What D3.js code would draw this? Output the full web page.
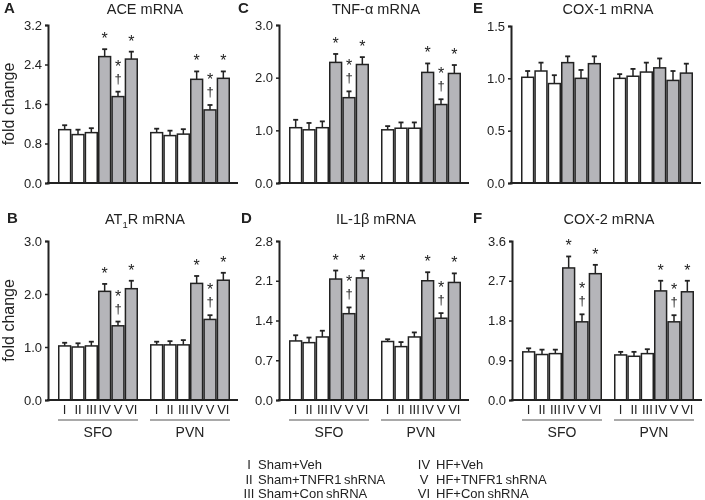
<!DOCTYPE html>
<html><head><meta charset="utf-8">
<script src="https://cdn.jsdelivr.net/npm/d3@7"></script>
<style>body{margin:0;background:#fff;} svg{will-change:transform;} text{font-family:"Liberation Sans",Arial,sans-serif;fill:#222;}</style>
</head><body><svg id="c" width="705" height="500"></svg>
<script>
const groups = ["SFO", "PVN"];
const treatments = ["I", "II", "III", "IV", "V", "VI"];
const legendLabels = ["Sham+Veh", "Sham+TNFR1 shRNA", "Sham+Con shRNA", "HF+Veh", "HF+TNFR1 shRNA", "HF+Con shRNA"];
const sigMarks = ["", "", "", "*", "*†", "*"];

const aceMean = [[1.08, 0.98, 1.02, 2.56, 1.75, 2.51], [1.02, 0.96, 0.99, 2.10, 1.48, 2.12]];
const aceErr  = [[0.09, 0.10, 0.09, 0.15, 0.10, 0.15], [0.08, 0.10, 0.10, 0.16, 0.10, 0.14]];
const at1rMean = [[1.02, 1.00, 1.02, 2.05, 1.40, 2.10], [1.04, 1.04, 1.04, 2.20, 1.52, 2.26]];
const at1rErr  = [[0.06, 0.07, 0.08, 0.14, 0.08, 0.15], [0.06, 0.07, 0.09, 0.14, 0.08, 0.14]];
const tnfMean = [[1.05, 1.01, 1.05, 2.29, 1.62, 2.25], [1.01, 1.04, 1.04, 2.10, 1.49, 2.08]];
const tnfErr  = [[0.15, 0.13, 0.12, 0.16, 0.12, 0.14], [0.07, 0.11, 0.11, 0.17, 0.10, 0.16]];
const il1Mean = [[1.04, 1.01, 1.11, 2.13, 1.52, 2.15], [1.03, 0.94, 1.11, 2.10, 1.44, 2.07]];
const il1Err  = [[0.10, 0.09, 0.11, 0.15, 0.11, 0.13], [0.04, 0.08, 0.08, 0.15, 0.09, 0.16]];
const cox1Mean = [[1.01, 1.07, 0.95, 1.15, 1.00, 1.14], [1.00, 1.02, 1.06, 1.10, 0.98, 1.05]];
const cox1Err  = [[0.06, 0.08, 0.08, 0.06, 0.08, 0.07], [0.04, 0.07, 0.09, 0.09, 0.09, 0.09]];
const cox2Mean = [[1.09, 1.03, 1.05, 2.99, 1.77, 2.86], [1.02, 0.99, 1.05, 2.47, 1.77, 2.45]];
const cox2Err  = [[0.08, 0.11, 0.09, 0.26, 0.17, 0.20], [0.07, 0.10, 0.10, 0.23, 0.15, 0.25]];

const aceTicks = [0, 0.8, 1.6, 2.4, 3.2];
const at1rTicks = [0, 1, 2, 3];
const tnfTicks = [0, 1, 2, 3];
const il1Ticks = [0, 0.7, 1.4, 2.1, 2.8];
const cox1Ticks = [0, 0.5, 1.0, 1.5];
const cox2Ticks = [0, 0.9, 1.8, 2.7, 3.6];

const panels = [
  {letter: "A", title: "ACE mRNA", mean: aceMean, err: aceErr, ticks: aceTicks, sig: true, x0: 48, top: 25, bottom: 183, xlab: false, lx: 4, ylab: true},
  {letter: "B", title: "AT1R mRNA", mean: at1rMean, err: at1rErr, ticks: at1rTicks, sig: true, x0: 48, top: 241, bottom: 400, xlab: true, lx: 7, ylab: true},
  {letter: "C", title: "TNF-α mRNA", mean: tnfMean, err: tnfErr, ticks: tnfTicks, sig: true, x0: 279, top: 25, bottom: 183, xlab: false, lx: 238},
  {letter: "D", title: "IL-1β mRNA", mean: il1Mean, err: il1Err, ticks: il1Ticks, sig: true, x0: 279, top: 241, bottom: 400, xlab: true, lx: 241},
  {letter: "E", title: "COX-1 mRNA", mean: cox1Mean, err: cox1Err, ticks: cox1Ticks, sig: false, x0: 511, top: 26, bottom: 183, xlab: false, lx: 473},
  {letter: "F", title: "COX-2 mRNA", mean: cox2Mean, err: cox2Err, ticks: cox2Ticks, sig: true, x0: 512, top: 241, bottom: 400, xlab: true, lx: 473}
];

const svg = d3.select("#c");
const ink = "#222";
const grayFill = "#b5b5b9";

panels.forEach(p => {
  const g = svg.append("g");
  const y = d3.scaleLinear().domain([0, d3.max(p.ticks)]).range([p.bottom, p.top]);
  const gx = d3.scaleBand().domain(groups).range([p.x0 + 10, p.x0 + 182]).paddingInner(12 / 92);
  const bx = d3.scaleBand().domain(treatments).range([0, gx.bandwidth()]);
  const topRow = p.top < 100;
  const tBase = topRow ? 14 : 224;

  g.append("text").attr("x", p.lx).attr("y", tBase - 1).attr("font-size", 15).attr("font-weight", "bold").text(p.letter);
  const tt = g.append("text").attr("x", p.x0 + 97).attr("y", tBase).attr("text-anchor", "middle").attr("font-size", 14.5);
  if (p.letter === "B") {
    tt.append("tspan").text("AT");
    tt.append("tspan").attr("font-size", 9.5).attr("dy", 4).text("1");
    tt.append("tspan").attr("dy", -4).text("R mRNA");
  } else tt.text(p.title);

  if (p.ylab) {
    g.append("text").attr("transform", `translate(14,${(p.top + p.bottom) / 2}) rotate(-90)`)
      .attr("text-anchor", "middle").attr("font-size", 16).text("fold change");
  }

  groups.forEach((gr, gi) => {
    const gg = g.append("g").attr("transform", `translate(${gx(gr)},0)`);
    treatments.forEach((t, i) => {
      const v = p.mean[gi][i], e = p.err[gi][i];
      const cx = bx(t) + bx.bandwidth() / 2;
      gg.append("line").attr("x1", cx).attr("x2", cx).attr("y1", y(v)).attr("y2", y(v + e)).attr("stroke", ink).attr("stroke-width", 1.5);
      gg.append("line").attr("x1", cx - 2.5).attr("x2", cx + 2.5).attr("y1", y(v + e)).attr("y2", y(v + e)).attr("stroke", ink).attr("stroke-width", 1.8);
      gg.append("rect").attr("x", bx(t) + 0.75).attr("y", y(v)).attr("width", bx.bandwidth() - 1.5).attr("height", y(0) - y(v))
        .attr("fill", i < 3 ? "#fff" : grayFill).attr("stroke", ink).attr("stroke-width", 1.5);
      if (p.sig && sigMarks[i]) {
        const et = y(v + e);
        if (sigMarks[i] === "*") {
          gg.append("text").attr("x", cx).attr("y", et - 5).attr("text-anchor", "middle").attr("font-size", 16).attr("fill", "#333").text("*");
        } else {
          const st = gg.append("text").attr("text-anchor", "middle").attr("fill", "#333");
          st.append("tspan").attr("x", cx).attr("y", et - 20).attr("font-size", 16).text("*");
          st.append("tspan").attr("x", cx).attr("y", et - 9).attr("font-size", 13).text("†");
        }
      }
      if (p.xlab) {
        gg.append("text").attr("x", cx).attr("y", 414).attr("text-anchor", "middle").attr("font-size", 13).attr("fill", "#333").text(t);
      }
    });
    if (p.xlab) {
      g.append("line").attr("x1", gx(gr)).attr("x2", gx(gr) + gx.bandwidth()).attr("y1", 420).attr("y2", 420).attr("stroke", "#555").attr("stroke-width", 1);
      g.append("text").attr("x", gx(gr) + gx.bandwidth() / 2).attr("y", 437).attr("text-anchor", "middle").attr("font-size", 14).text(gr);
    }
  });

  const ax = g.append("g").attr("transform", `translate(${p.x0},0)`)
    .call(d3.axisLeft(y).tickValues(p.ticks).tickFormat(d3.format(".1f")).tickSize(3).tickPadding(3));
  ax.select(".domain").attr("stroke", ink).attr("stroke-width", 2);
  ax.selectAll(".tick line").attr("stroke", ink).attr("stroke-width", 1.5);
  ax.selectAll("text").attr("font-size", 13).attr("fill", "#333").style("font-family", '"Liberation Sans",Arial,sans-serif');
  g.append("line").attr("x1", p.x0 - 1).attr("x2", p.x0 + 190).attr("y1", y(0)).attr("y2", y(0)).attr("stroke", ink).attr("stroke-width", 2);
});

const lg = svg.append("g");
const rowsY = [469, 484, 498];
legendLabels.forEach((lab, i) => {
  const col = i < 3 ? 0 : 1;
  const row = i % 3;
  const nx = col === 0 ? 249 : 424;
  const tx = col === 0 ? 258 : 436;
  lg.append("text").attr("x", nx).attr("y", rowsY[row]).attr("text-anchor", "middle").attr("font-size", 13).text(treatments[i]);
  lg.append("text").attr("x", tx).attr("y", rowsY[row]).attr("font-size", 13).attr("word-spacing", -1).text(lab);
});
</script></body></html>
